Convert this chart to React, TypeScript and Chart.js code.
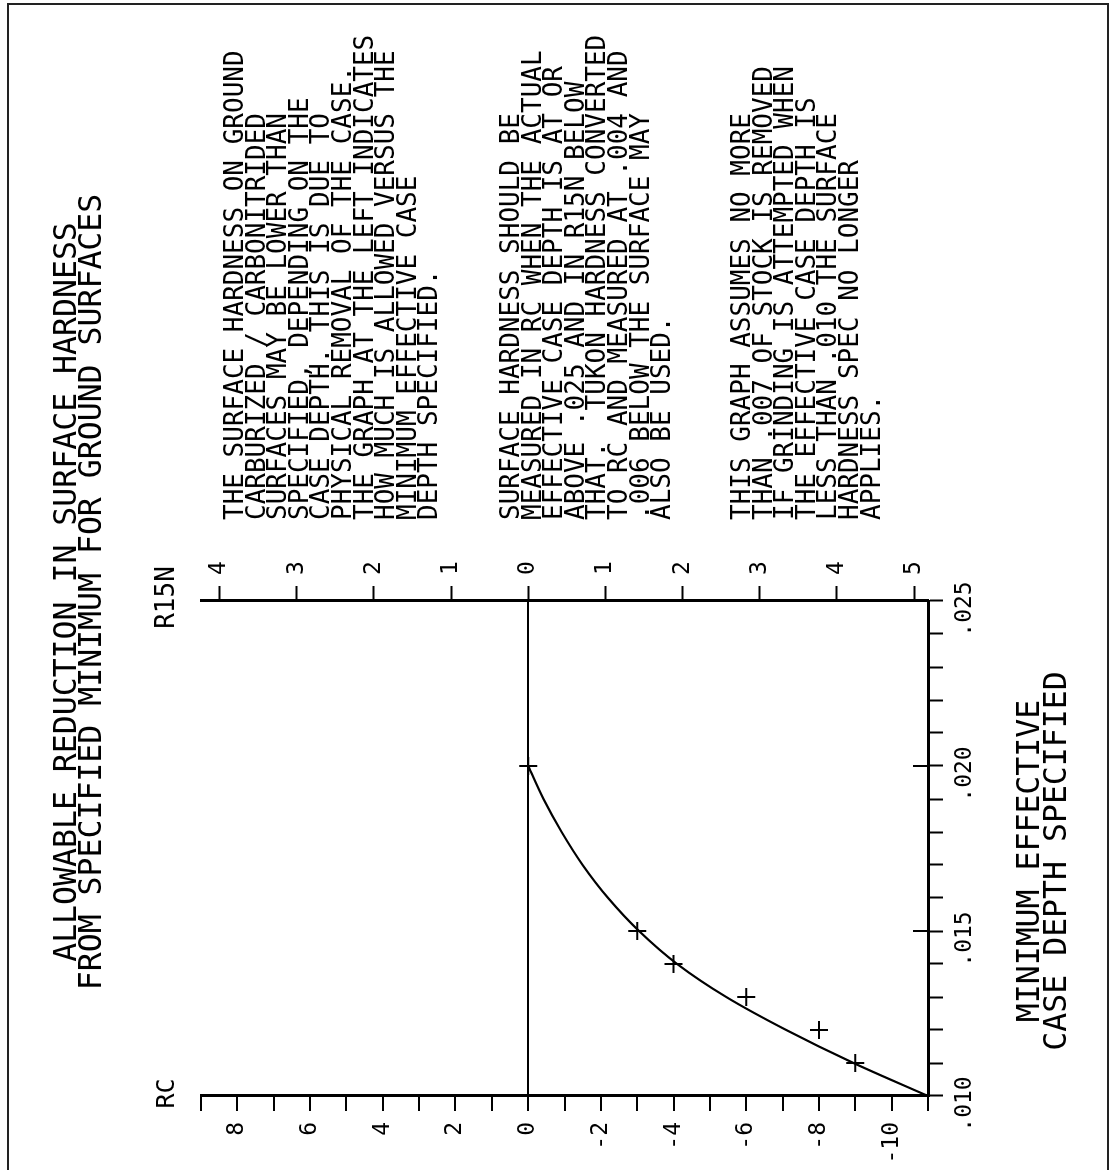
import React, { useEffect, useRef } from 'react';
import { Chart, registerables } from 'chart.js';

Chart.register(...registerables);

// ---- data ----
const DEPTH_CURVE = [0.010, 0.011, 0.012, 0.013, 0.014, 0.015, 0.016, 0.017, 0.018, 0.019, 0.020];
const RC_CURVE = [-11, -8.95, -7.1, -5.45, -4.1, -3.05, -2.2, -1.5, -0.92, -0.42, 0];

const DEPTH_POINTS = [0.011, 0.012, 0.013, 0.014, 0.015, 0.020];
const RC_POINTS = [-9, -8, -6, -4, -3, 0];

// ---- axes ----
const DEPTH_MIN = 0.010;
const DEPTH_MAX = 0.025;
const DEPTH_TICKS = [0.010, 0.011, 0.012, 0.013, 0.014, 0.015, 0.016, 0.017, 0.018, 0.019, 0.020, 0.021, 0.022, 0.023, 0.024, 0.025];
const DEPTH_LABEL_VALUES = [0.010, 0.015, 0.020, 0.025];
const DEPTH_LABEL_TEXT = ['.010', '.015', '.020', '.025'];
const DEPTH_MAJOR = [0.015, 0.020];

const RC_MIN = -11;
const RC_MAX = 9;
const RC_TICKS = [9, 8, 7, 6, 5, 4, 3, 2, 1, 0, -1, -2, -3, -4, -5, -6, -7, -8, -9, -10, -11];
const RC_LABELS = [8, 6, 4, 2, 0, -2, -4, -6, -8, -10];

const R15N_MIN = -5.18;
const R15N_MAX = 4.24;
const R15N_TICKS = [4, 3, 2, 1, 0, -1, -2, -3, -4, -5];

// ---- texts ----
const TITLE_LINES = [
  'ALLOWABLE REDUCTION IN SURFACE HARDNESS',
  'FROM SPECIFIED MINIMUM FOR GROUND SURFACES',
];
const X_TITLE_LINES = ['MINIMUM EFFECTIVE', 'CASE DEPTH SPECIFIED'];
const RC_NAME = 'RC';
const R15N_NAME = 'R15N';

const NOTE_1 = [
  'THE SURFACE HARDNESS ON GROUND',
  'CARBURIZED / CARBONITRIDED',
  'SURFACES MAY BE LOWER THAN',
  'SPECIFIED, DEPENDING ON THE',
  'CASE DEPTH. THIS IS DUE TO',
  'PHYSICAL REMOVAL OF THE CASE.',
  'THE GRAPH AT THE LEFT INDICATES',
  'HOW MUCH IS ALLOWED VERSUS THE',
  'MINIMUM EFFECTIVE CASE',
  'DEPTH SPECIFIED.',
];
const NOTE_2 = [
  'SURFACE HARDNESS SHOULD BE',
  'MEASURED IN RC WHEN THE ACTUAL',
  'EFFECTIVE CASE DEPTH IS AT OR',
  'ABOVE .025 AND IN R15N BELOW',
  'THAT.  TUKON HARDNESS CONVERTED',
  'TO RC AND MEASURED AT .004 AND',
  '.006 BELOW THE SURFACE MAY',
  'ALSO BE USED.',
];
const NOTE_3 = [
  'THIS GRAPH ASSUMES NO MORE',
  'THAN .007 OF STOCK IS REMOVED',
  'IF GRINDING IS ATTEMPTED WHEN',
  'THE EFFECTIVE CASE DEPTH IS',
  'LESS THAN .010 THE SURFACE',
  'HARDNESS SPEC NO LONGER',
  'APPLIES.',
];

const FONT = "'DejaVu Sans Mono', 'Liberation Mono', monospace";

const innerMajorTicks = {
  id: 'innerMajorTicks',
  afterDraw(chart: any) {
    const { ctx, chartArea, scales } = chart;
    ctx.save();
    ctx.strokeStyle = '#000';
    ctx.lineWidth = 2;
    DEPTH_MAJOR.forEach((d) => {
      const px = scales.x.getPixelForValue(d);
      ctx.beginPath();
      ctx.moveTo(px, chartArea.bottom - 15);
      ctx.lineTo(px, chartArea.bottom);
      ctx.stroke();
    });
    ctx.restore();
  },
};

export default function App() {
  const canvasRef = useRef<HTMLCanvasElement | null>(null);

  useEffect(() => {
    if (!canvasRef.current) return;
    const tickFont = { family: FONT, size: 23 };
    const chart = new Chart(canvasRef.current, {
      type: 'line',
      data: {
        datasets: [
          {
            type: 'line',
            data: DEPTH_CURVE.map((d, i) => ({ x: d, y: RC_CURVE[i] })),
            borderColor: '#000',
            borderWidth: 2.2,
            pointRadius: 0,
            cubicInterpolationMode: 'monotone',
            fill: false,
            yAxisID: 'y',
            clip: false,
          } as any,
          {
            type: 'line',
            data: DEPTH_POINTS.map((d, i) => ({ x: d, y: RC_POINTS[i] })),
            showLine: false,
            pointStyle: 'cross',
            pointRadius: 9,
            pointBorderWidth: 2,
            borderColor: '#000',
            backgroundColor: '#000',
            yAxisID: 'y',
            clip: false,
          } as any,
        ],
      },
      options: {
        responsive: false,
        animation: false,
        layout: { padding: { left: 0, top: 201, right: 541, bottom: 115 } },
        plugins: {
          legend: { display: false },
          tooltip: { enabled: false },
          title: { display: false },
        },
        scales: {
          x: {
            type: 'linear',
            position: 'bottom',
            min: DEPTH_MIN,
            max: DEPTH_MAX,
            afterBuildTicks: (s: any) => {
              s.ticks = DEPTH_TICKS.map((value) => ({ value }));
            },
            afterFit: (s: any) => {
              s.height = 70;
            },
            grid: {
              drawOnChartArea: false,
              drawTicks: true,
              tickLength: 15,
              tickWidth: 2,
              tickColor: '#000',
            },
            border: { display: true, color: '#000', width: 3 },
            ticks: {
              autoSkip: false,
              maxRotation: 0,
              minRotation: 0,
              padding: 8,
              labelOffset: -8,
              color: '#000',
              font: tickFont,
              callback: (value: any) => {
                const i = DEPTH_LABEL_VALUES.findIndex((d) => Math.abs(d - Number(value)) < 1e-9);
                return i >= 0 ? DEPTH_LABEL_TEXT[i] : '';
              },
            },
          },
          y: {
            type: 'linear',
            position: 'left',
            min: RC_MIN,
            max: RC_MAX,
            afterBuildTicks: (s: any) => {
              s.ticks = RC_TICKS.map((value) => ({ value }));
            },
            afterFit: (s: any) => {
              s.width = 74;
            },
            grid: {
              drawOnChartArea: true,
              color: (ctx: any) => (ctx.tick && ctx.tick.value === 0 ? '#000' : 'rgba(0,0,0,0)'),
              lineWidth: 2,
              tickLength: 15,
              tickWidth: 2,
              tickColor: '#000',
            },
            border: { display: true, color: '#000', width: 3 },
            ticks: {
              autoSkip: false,
              padding: 11,
              color: '#000',
              font: tickFont,
              callback: (value: any) => (RC_LABELS.includes(Number(value)) ? String(value) : ''),
            },
          },
          y2: {
            type: 'linear',
            position: 'right',
            min: R15N_MIN,
            max: R15N_MAX,
            afterBuildTicks: (s: any) => {
              s.ticks = R15N_TICKS.map((value) => ({ value }));
            },
            afterFit: (s: any) => {
              s.width = 60;
            },
            grid: {
              drawOnChartArea: false,
              tickLength: 15,
              tickWidth: 2,
              tickColor: '#000',
            },
            border: { display: true, color: '#000', width: 3 },
            ticks: {
              autoSkip: false,
              padding: 11,
              color: '#000',
              font: tickFont,
              callback: (value: any) => String(Math.abs(Number(value))),
            },
          },
        },
      } as any,
      plugins: [innerMajorTicks],
    });
    return () => chart.destroy();
  }, []);

  const textBase: React.CSSProperties = {
    position: 'absolute',
    fontFamily: FONT,
    color: '#000',
    whiteSpace: 'pre',
    margin: 0,
  };

  const note = (lines: string[], top: number) => (
    <div style={{ ...textBase, left: 650, top, fontSize: 26, lineHeight: '21.6px' }}>
      {lines.map((l, i) => (
        <div key={i}>{l}</div>
      ))}
    </div>
  );

  return (
    <div
      style={{
        position: 'fixed',
        left: 0,
        top: 0,
        width: 1113,
        height: 1170,
        overflow: 'hidden',
        background: '#fff',
      }}
    >
      <div
        style={{
          position: 'absolute',
          left: 0,
          top: 0,
          width: 1170,
          height: 1113,
          transformOrigin: '0 0',
          transform: 'translate(0px, 1170px) rotate(-90deg)',
          background: '#fff',
        }}
      >
        <canvas
          ref={canvasRef}
          width={1170}
          height={1113}
          style={{ position: 'absolute', left: 0, top: 0, width: 1170, height: 1113 }}
        />
        <div
          style={{
            position: 'absolute',
            left: -10,
            top: 7,
            width: 1177,
            height: 1102,
            border: '2px solid #222',
            boxSizing: 'border-box',
            pointerEvents: 'none',
          }}
        />
        <div
          style={{
            ...textBase,
            left: 78,
            top: 52.5,
            width: 1000,
            textAlign: 'center',
            fontSize: 31.5,
            lineHeight: '25px',
          }}
        >
          {TITLE_LINES.map((l, i) => (
            <div key={i}>{l}</div>
          ))}
        </div>
        <div
          style={{
            ...textBase,
            left: 9,
            top: 1014.5,
            width: 600,
            textAlign: 'center',
            fontSize: 31.5,
            lineHeight: '27px',
          }}
        >
          {X_TITLE_LINES.map((l, i) => (
            <div key={i}>{l}</div>
          ))}
        </div>
        <div
          style={{
            ...textBase,
            left: 26.5,
            top: 153,
            width: 100,
            textAlign: 'center',
            fontSize: 25,
            lineHeight: '25px',
          }}
        >
          {RC_NAME}
        </div>
        <div
          style={{
            ...textBase,
            left: 522.5,
            top: 152,
            width: 100,
            textAlign: 'center',
            fontSize: 26,
            lineHeight: '26px',
          }}
        >
          {R15N_NAME}
        </div>
        {note(NOTE_1, 224)}
        {note(NOTE_2, 500)}
        {note(NOTE_3, 731)}
      </div>
    </div>
  );
}
